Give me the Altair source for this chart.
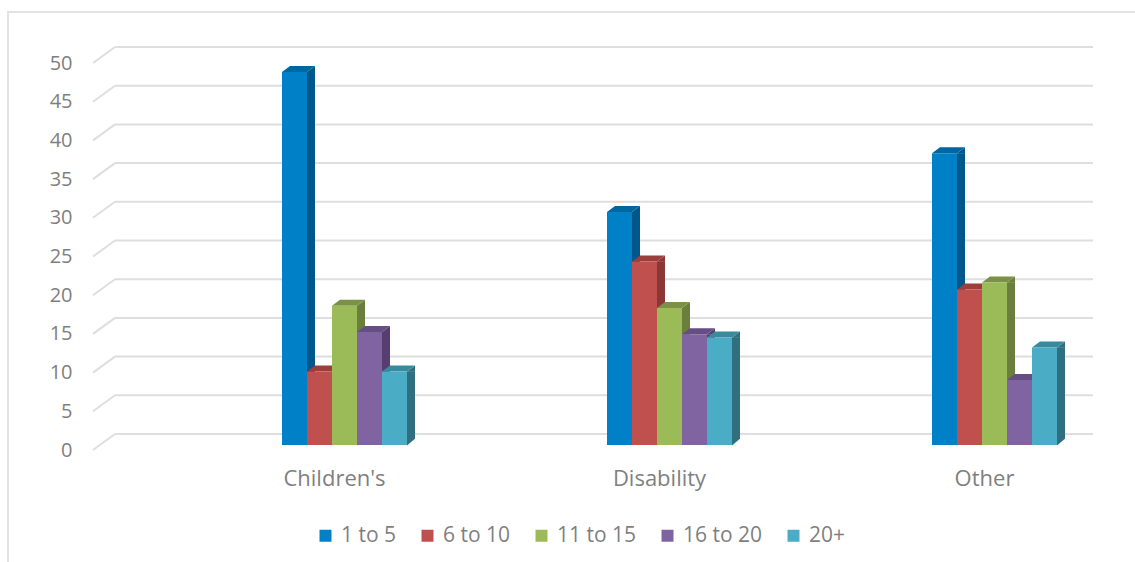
import altair as alt
import pandas as pd

# ---- data ----
categories = ["Children's", "Disability", "Other"]
series = ["1 to 5", "6 to 10", "11 to 15", "16 to 20", "20+"]
childrens = [48.2, 9.5, 18.0, 14.6, 9.5]
disability = [30.1, 23.7, 17.7, 14.3, 13.9]
other = [37.7, 20.1, 21.0, 8.4, 12.6]
y_ticks = [0, 5, 10, 15, 20, 25, 30, 35, 40, 45, 50]

# ---- styles ----
front_colors = ["#0080C6", "#C0504D", "#9BBB59", "#8064A2", "#4BACC6"]
side_colors = ["#00578A", "#8A3735", "#6A7F3B", "#563F70", "#306F80"]
top_colors = ["#00669F", "#9B3E3C", "#7A9147", "#664D84", "#3A8A9E"]
GRID = "#DEDEDE"
TEXT = "#7F7F7F"
FONT = "Open Sans"

rows = []
for cat, vals in zip(categories, [childrens, disability, other]):
    for s, v in zip(series, vals):
        rows.append({"category": cat, "series": s, "value": v, "zero": 0})
df = pd.DataFrame(rows)
grid_df = pd.DataFrame({"tick": y_ticks})

W, H = 1000, 387
x_scale = alt.Scale(type="band", domain=categories, range=[189, 964],
                    paddingInner=200 / 325, paddingOuter=0)
xo_scale = alt.Scale(type="band", domain=series, paddingInner=0, paddingOuter=0, range=[0, 125])
# shifted offset scale for the right-hand side faces (band centre moved to the bar's right edge + 4px)
xo_side_scale = alt.Scale(type="band", domain=series, paddingInner=0, paddingOuter=0, range=[16.5, 141.5])
y_scale = alt.Scale(domain=[0, 50], nice=False, zero=True)

x_axis = alt.Axis(domain=False, ticks=False, tickSize=0, grid=False, labelAngle=0,
                  labelFont=FONT, labelFontSize=22, labelColor=TEXT,
                  labelOffset=-10, labelPadding=23, title=None)
y_axis = alt.Axis(values=y_ticks, domain=False, ticks=False, tickSize=0, grid=False,
                  labelFont=FONT, labelFontSize=20, labelColor=TEXT,
                  labelPadding=21, labelOffset=5, title=None)

X = alt.X("category:N", scale=x_scale, sort=categories, axis=x_axis, title=None)
XO = alt.XOffset("series:N", scale=xo_scale, sort=series)
Y = alt.Y("value:Q", scale=y_scale, axis=y_axis, title=None)


def col(rng):
    return alt.Color("series:N", scale=alt.Scale(domain=series, range=rng), legend=None)


base = alt.Chart(df)

# outer frame
frame = alt.Chart(grid_df).mark_rect(fill=None, stroke="#E3E3E3", strokeWidth=2).encode(
    x=alt.value(-85), x2=alt.value(1060), y=alt.value(-46), y2=alt.value(520)
).transform_filter("datum.tick == 0")

# back-wall gridlines and left slanted wall lines
back = alt.Chart(grid_df).mark_rule(color=GRID, strokeWidth=2, yOffset=-11).encode(
    y=alt.Y("tick:Q", scale=y_scale, axis=y_axis, title=None), x=alt.value(22), x2=alt.value(W)
)
slant = alt.Chart(grid_df).mark_rule(color=GRID, strokeWidth=2, yOffset=5, y2Offset=-11).encode(
    y=alt.Y("tick:Q", scale=y_scale, axis=y_axis, title=None), y2="tick:Q",
    x=alt.value(0), x2=alt.value(22)
)

# 3D faces
side_rect = base.mark_bar(width=8, y2Offset=-6).encode(
    x=X, xOffset=alt.XOffset("series:N", scale=xo_side_scale, sort=series),
    y=Y, y2="zero:Q", color=col(side_colors)
)
side_top = base.mark_point(shape="M12.5,0 L20.5,-6 L20.5,0.3 L12.5,0.3 Z", size=4, filled=True, opacity=1,
                           strokeWidth=0).encode(
    x=X, xOffset=XO, y=Y, color=col(side_colors)
)
side_bottom = base.mark_point(shape="M12.5,0.5 L12.5,-6.3 L20.5,-6.3 Z", size=4, filled=True, opacity=1,
                              strokeWidth=0).encode(
    x=X, xOffset=XO, y=alt.Y("zero:Q", scale=y_scale, axis=y_axis, title=None), color=col(side_colors)
)
top_face = base.mark_point(shape="M-12.5,0 L12.5,0 L20.5,-6 L-4.5,-6 Z", size=4, filled=True, opacity=1,
                           strokeWidth=0).encode(
    x=X, xOffset=XO, y=Y, color=col(top_colors)
)
front = base.mark_bar().encode(
    x=X,
    xOffset=XO,
    y=Y,
    color=alt.Color("series:N", sort=series,
                    scale=alt.Scale(domain=series, range=front_colors),
                    legend=alt.Legend(title=None, orient="none", legendX=222, legendY=467,
                                      direction="horizontal", symbolType="square", symbolSize=144,
                                      symbolStrokeWidth=0, labelFont=FONT, labelFontSize=21,
                                      labelColor=TEXT, columnPadding=20, labelOffset=5)),
)

chart = alt.layer(frame, back, slant, side_rect, side_top, side_bottom, top_face, front).resolve_scale(
    color="independent", xOffset="independent"
).properties(
    width=W, height=H,
    padding={"left": 93, "top": 58, "right": 42, "bottom": 117},
    autosize=alt.AutoSizeParams(type="none"),
).configure_view(stroke=None)

chart.save("out.html", embed_options={"renderer": "svg", "actions": False})
